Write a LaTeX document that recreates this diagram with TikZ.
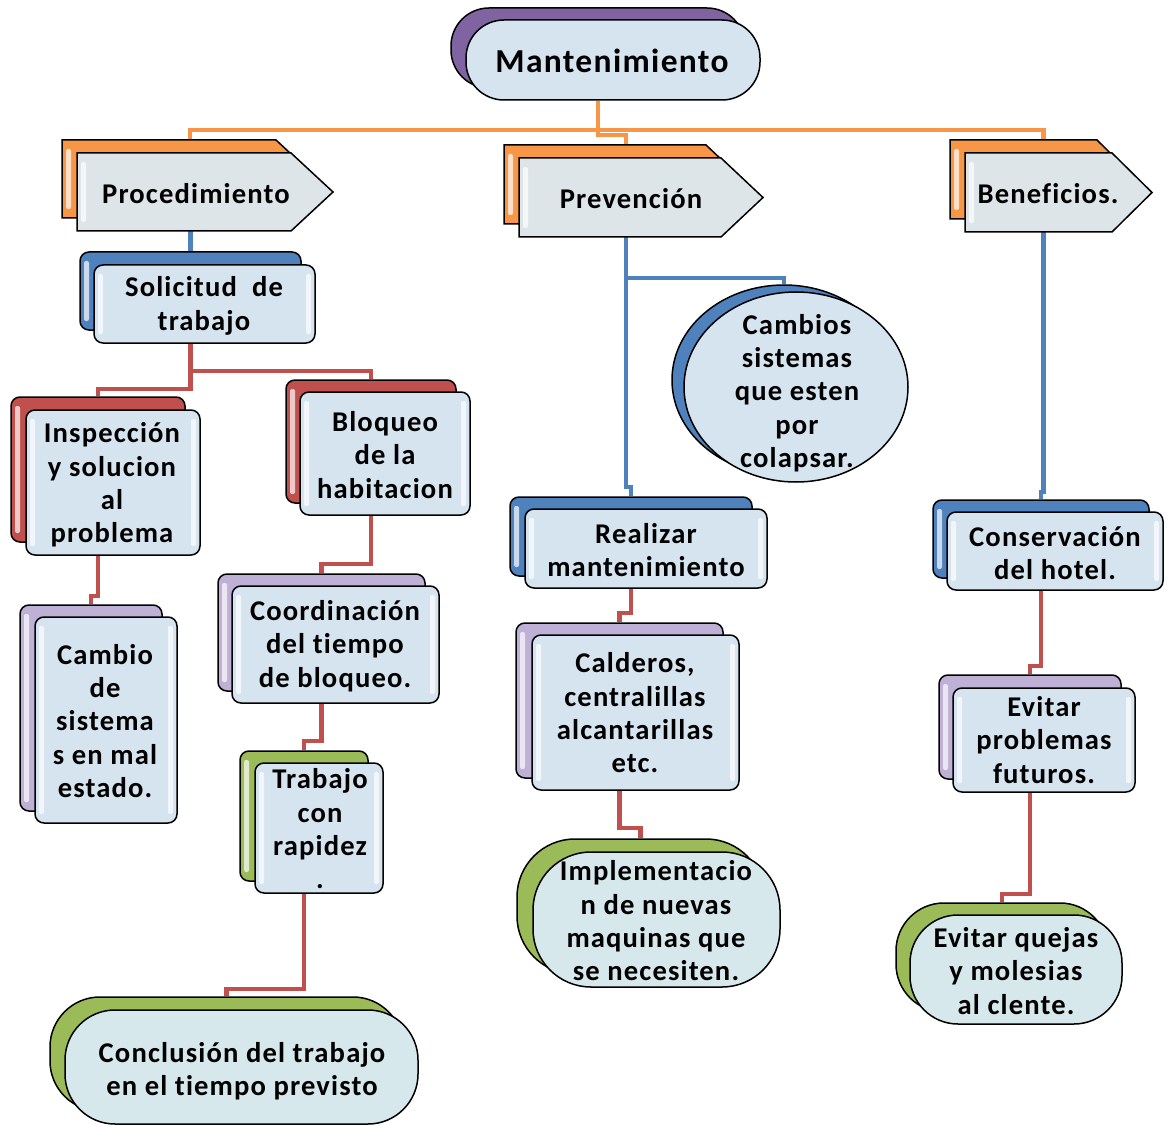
\documentclass[tikz,border=0pt]{standalone}
\usepackage{fontspec}
\setmainfont{Carlito}
\newfontfamily\lblfont[LetterSpace=4,Ligatures=NoCommon]{Carlito}
\usetikzlibrary{shapes.geometric,shapes.misc,calc}
\pgfdeclarelayer{bg}
\pgfsetlayers{bg,main}
\definecolor{cOrange}{HTML}{F79646}
\definecolor{cBlue}{HTML}{4F81BD}
\definecolor{cRed}{HTML}{C0504D}
\definecolor{cGreen}{HTML}{9BBB59}
\definecolor{cPurple}{HTML}{8064A2}
\definecolor{cLav}{HTML}{BFB0D6}
\definecolor{frontA}{HTML}{D6E4EF}
\definecolor{frontArr}{HTML}{DDE5E9}
\definecolor{frontPill}{HTML}{D7E8EC}
\newcommand\sigshape[3]{\path[#3] (#1.north west) -- ([xshift=-#2]#1.north east) -- (#1.east) -- ([xshift=-#2]#1.south east) -- (#1.south west) -- cycle;}
\tikzset{
  ol/.style={draw=black, line width=1.5pt},
  glossL/.style={path picture={
    \fill[white,opacity=0.7,rounded corners=2pt] ([xshift=4pt,yshift=-9pt]path picture bounding box.north west) rectangle ([xshift=9pt,yshift=9pt]path picture bounding box.south west);}},
  gloss/.style={path picture={
    \fill[white,opacity=0.7,rounded corners=2pt] ([xshift=4pt,yshift=-9pt]path picture bounding box.north west) rectangle ([xshift=9pt,yshift=9pt]path picture bounding box.south west);
    \fill[white,opacity=0.7,rounded corners=2pt] ([xshift=-4pt,yshift=-9pt]path picture bounding box.north east) rectangle ([xshift=-9pt,yshift=9pt]path picture bounding box.south east);}},
  frontbox/.style={ol, fill=frontA, rounded corners=9pt, inner sep=0pt, gloss},
  backbox/.style={ol, rounded corners=9pt, inner sep=0pt, glossL},
  pill/.style={ol, rectangle, inner sep=0pt},
  oval/.style={ol, ellipse, inner sep=0pt},
  anch/.style={inner sep=0pt, outer sep=0pt, draw=none},
  frontsig/.style={ol, fill=frontArr, glossL},
  backsig/.style={ol, glossL},
  txt/.style={font={\lblfont\bfseries\fontsize{28.6pt}{33.3pt}\selectfont}, align=center, inner sep=0pt},
  conO/.style={draw=cOrange, line width=4.5pt},
  conB/.style={draw=cBlue, line width=4.5pt},
  conR/.style={draw=cRed, line width=4.5pt},
}
\begin{document}
\begin{tikzpicture}[x=1pt,y=-1pt]
\useasboundingbox (0,0) rectangle (1168,1126);
\begin{pgfonlayer}{bg}
\fill[white] (0,0) rectangle (1168,1126);
\end{pgfonlayer}

% Mantenimiento
\node[pill, rounded corners=38pt, fill=cPurple, minimum width=294pt, minimum height=80pt] (mantB) at (598,48) {};
\node[pill, rounded corners=38pt, fill=frontA, minimum width=294pt, minimum height=80pt] (mant) at (613,60) {};
\node[txt, font={\lblfont\bfseries\fontsize{33.5pt}{38pt}\selectfont}] (mantT) at (612,61) {Mantenimiento};

% arrows
\node[anch, minimum width=256pt, minimum height=78pt] (procB) at (190,179) {};
\node[anch, minimum width=256pt, minimum height=78pt] (proc) at (205,192) {};
\sigshape{procB}{42pt}{backsig, fill=cOrange}
\sigshape{proc}{42pt}{frontsig}
\node[txt] (procT) at (196,194) {Procedimiento};

\node[anch, minimum width=244pt, minimum height=79pt] (prevB) at (626,184.5) {};
\node[anch, minimum width=244pt, minimum height=79pt] (prev) at (641,197.5) {};
\sigshape{prevB}{42pt}{backsig, fill=cOrange}
\sigshape{prev}{42pt}{frontsig}
\node[txt] (prevT) at (631,199) {Prevención};

\node[anch, minimum width=187pt, minimum height=79pt] (benB) at (1043.5,179.5) {};
\node[anch, minimum width=187pt, minimum height=79pt] (ben) at (1058.5,192.5) {};
\sigshape{benB}{40pt}{backsig, fill=cOrange}
\sigshape{ben}{40pt}{frontsig}
\node[txt] (benT) at (1048,194) {Beneficios.};

% Procedimiento branch
\node[backbox, fill=cBlue, minimum width=221pt, minimum height=78pt] (solB) at (190.5,291) {};
\node[frontbox, minimum width=221pt, minimum height=78pt] (sol) at (204.5,304) {};
\node[txt] (solT) at (204,306) {Solicitud\ \ de\\trabajo};

\node[backbox, fill=cRed, minimum width=174pt, minimum height=145pt] (inspB) at (98,469.5) {};
\node[frontbox, minimum width=174pt, minimum height=145pt] (insp) at (113,482.5) {};
\node[txt] (inspT) at (112,485) {Inspección\\y solucion\\al\\problema};

\node[backbox, fill=cRed, minimum width=170pt, minimum height=123pt] (bloqB) at (371,441.5) {};
\node[frontbox, minimum width=170pt, minimum height=123pt] (bloq) at (385,453.5) {};
\node[txt] (bloqT) at (385,455) {Bloqueo\\de la\\habitacion};

\node[backbox, fill=cLav, minimum width=142pt, minimum height=206pt] (sisB) at (91,708) {};
\node[frontbox, minimum width=142pt, minimum height=206pt] (sis) at (106,720) {};
\node[txt] (sisT) at (105,721) {Cambio\\de\\sistema\\s en mal\\estado.};

\node[backbox, fill=cLav, minimum width=207pt, minimum height=117pt] (coordB) at (321.5,632.5) {};
\node[frontbox, minimum width=207pt, minimum height=117pt] (coord) at (335.5,644.5) {};
\node[txt] (coordT) at (335,646) {Coordinación\\del tiempo\\de bloqueo.};

\node[backbox, fill=cGreen, minimum width=128pt, minimum height=130pt] (trabB) at (304,816) {};
\node[frontbox, minimum width=128pt, minimum height=130pt] (trab) at (319,828) {};
\node[txt] (trabT) at (320,829) {Trabajo\\con\\rapidez\\.};

\node[pill, rounded corners=50pt, fill=cGreen, minimum width=353pt, minimum height=114pt] (conclB) at (226.5,1054) {};
\node[pill, rounded corners=50pt, fill=frontPill, minimum width=353pt, minimum height=114pt] (concl) at (241.5,1067) {};
\node[txt] (conclT) at (242,1071) {Conclusión del trabajo\\en el tiempo previsto};

% Prevencion branch
\node[oval, fill=cBlue, minimum width=224pt, minimum height=190pt] (cambB) at (784,380) {};
\node[oval, fill=frontA, minimum width=224pt, minimum height=190pt] (camb) at (796,387) {};
\node[txt] (cambT) at (797,393) {Cambios\\sistemas\\que esten\\por\\colapsar.};

\node[backbox, fill=cBlue, minimum width=242pt, minimum height=79pt] (realB) at (631,536.5) {};
\node[frontbox, minimum width=242pt, minimum height=79pt] (real) at (646,548.5) {};
\node[txt] (realT) at (646,550) {Realizar\\mantenimiento};

\node[backbox, fill=cLav, minimum width=207pt, minimum height=155pt] (caldB) at (619.5,700.5) {};
\node[frontbox, minimum width=207pt, minimum height=155pt] (cald) at (635.5,712.5) {};
\node[txt] (caldT) at (635,713) {Calderos,\\centralillas\\alcantarillas\\etc.};

\node[pill, rounded corners=58pt, fill=cGreen, minimum width=247pt, minimum height=135pt] (implB) at (640.5,906.5) {};
\node[pill, rounded corners=58pt, fill=frontPill, minimum width=247pt, minimum height=135pt] (impl) at (656.5,919.5) {};
\node[txt] (implT) at (656,921) {Implementacio\\n de nuevas\\maquinas que\\se necesiten.};

% Beneficios branch
\node[backbox, fill=cBlue, minimum width=216pt, minimum height=78pt] (consB) at (1041,539) {};
\node[frontbox, minimum width=216pt, minimum height=78pt] (cons) at (1055,551) {};
\node[txt] (consT) at (1055,553) {Conservación\\del hotel.};

\node[backbox, fill=cLav, minimum width=182pt, minimum height=104pt] (evpB) at (1030,727) {};
\node[frontbox, minimum width=182pt, minimum height=104pt] (evp) at (1044,740) {};
\node[txt] (evpT) at (1044,740) {Evitar\\problemas\\futuros.};

\node[pill, rounded corners=48pt, fill=cGreen, minimum width=212pt, minimum height=109pt] (evqB) at (1002,957.5) {};
\node[pill, rounded corners=48pt, fill=frontPill, minimum width=212pt, minimum height=109pt] (evq) at (1016,969.5) {};
\node[txt] (evqT) at (1016,971) {Evitar quejas\\y molesias\\al clente.};

% connectors
\coordinate (oA) at (598,130);
\coordinate (oB) at (598,135);
\begin{pgfonlayer}{bg}
\draw[conO] (procB.north) |- (oA) -| (benB.north);
\draw[conO] (mant.south -| oA) -- (oB) -| (prevB.north);
\draw[conB] (proc.south -| solB.north) -- (solB.north);
\draw[conB] (prev.south -| prevB.north) -- ++(0,250) -| (realB.north);
\draw[conB] (prev.south -| prevB.north) ++(0,41) -| (cambB.north);
\draw[conB] (ben.south -| benB.north) -- ++(0,260) -| (consB.north);
\draw[conR] (sol.south -| solB.north) -- ++(0,45) -| (inspB.north);
\draw[conR] (sol.south -| solB.north) -- ++(0,27) -| (bloqB.north);
\draw[conR] (insp.south -| inspB.north) -- ++(0,40) -| (sisB.north);
\draw[conR] (bloq.south -| bloqB.north) -- ++(0,48) -| (coordB.north);
\draw[conR] (coord.south -| coordB.north) -- ++(0,37) -| (trabB.north);
\draw[conR] (trab.south -| trabB.north) -- ++(0,95) -| (conclB.north);
\draw[conR] (real.south -| realB.north) -- ++(0,24) -| (caldB.north);
\draw[conR] (cald.south -| caldB.north) -- ++(0,37) -| (implB.north);
\draw[conR] (cons.south -| consB.north) -- ++(0,75) -| (evpB.north);
\draw[conR] (evp.south -| evpB.north) -- ++(0,101) -| (evqB.north);
\end{pgfonlayer}
\end{tikzpicture}
\end{document}
